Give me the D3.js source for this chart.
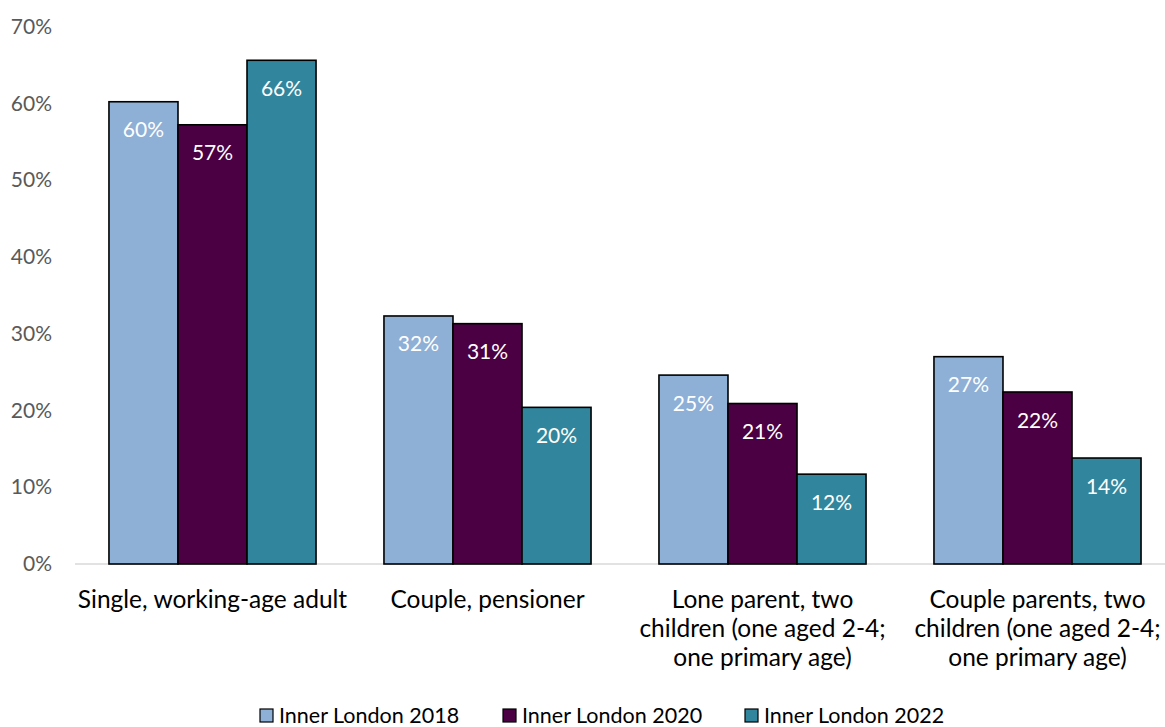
<!DOCTYPE html>
<html>
<head>
<meta charset="utf-8">
<script src="https://cdn.jsdelivr.net/npm/d3@7/dist/d3.min.js"></script>
<style>
  html, body { margin: 0; padding: 0; background: #fff; }
  svg { display: block; font-family: Lato, "Open Sans", sans-serif; }
</style>
</head>
<body>
<svg id="chart" width="1165" height="727"></svg>
<script>
// Household types (x-axis categories), each label split into lines
const categories = [
  ["Single, working-age adult"],
  ["Couple, pensioner"],
  ["Lone parent, two", "children (one aged 2-4;", "one primary age)"],
  ["Couple parents, two", "children (one aged 2-4;", "one primary age)"]
];
const seriesNames = ["Inner London 2018", "Inner London 2020", "Inner London 2022"];
// Share of households, in percent
const values2018 = [60.2, 32.3, 24.6, 27.0];
const values2020 = [57.2, 31.3, 20.9, 22.4];
const values2022 = [65.6, 20.4, 11.7, 13.8];
const yTicks = [0, 10, 20, 30, 40, 50, 60, 70];

const colors = ["#8EAFD6", "#4A0043", "#31869D"];
const seriesValues = [values2018, values2020, values2022];

const svg = d3.select("#chart");

const x0 = d3.scaleBand()
  .domain(d3.range(categories.length))
  .range([75, 1175])
  .paddingInner(0.247)
  .paddingOuter(0.1235);

const x1 = d3.scaleBand()
  .domain(d3.range(seriesNames.length))
  .range([0, x0.bandwidth()]);

const y = d3.scaleLinear().domain([0, 70]).range([564, 26.5]);

// Y axis labels (no line, no ticks)
const yAxis = d3.axisLeft(y).tickValues(yTicks).tickFormat(d => d + "%").tickSize(0).tickPadding(0);
const gy = svg.append("g").attr("transform", "translate(52,0)").call(yAxis);
gy.select(".domain").remove();
gy.selectAll("text")
  .attr("fill", "#595959")
  .style("font-size", "21px")
  .style("font-family", "Lato, sans-serif");

// Baseline
svg.append("line")
  .attr("x1", 75).attr("x2", 1165)
  .attr("y1", y(0)).attr("y2", y(0))
  .attr("stroke", "#D9D9D9").attr("stroke-width", 1.5);

// Bars
const groups = svg.append("g").selectAll("g")
  .data(categories.map((c, i) => i))
  .join("g")
  .attr("transform", i => `translate(${x0(i)},0)`);

groups.selectAll("rect")
  .data(i => seriesValues.map((vals, s) => ({ s, v: vals[i] })))
  .join("rect")
  .attr("x", d => x1(d.s))
  .attr("width", x1.bandwidth())
  .attr("y", d => y(d.v))
  .attr("height", d => y(0) - y(d.v))
  .attr("fill", d => colors[d.s])
  .attr("stroke", "#000")
  .attr("stroke-width", 1.6);

// Value labels inside the top of each bar
groups.selectAll("text.val")
  .data(i => seriesValues.map((vals, s) => ({ s, v: vals[i] })))
  .join("text")
  .attr("class", "val")
  .attr("x", d => x1(d.s) + x1.bandwidth() / 2)
  .attr("y", d => y(d.v) + 35.5)
  .attr("text-anchor", "middle")
  .attr("fill", "#fff")
  .style("font-size", "21px")
  .text(d => Math.round(d.v) + "%");

// Category labels
const xl = svg.append("g").selectAll("text")
  .data(categories)
  .join("text")
  .attr("text-anchor", "middle")
  .attr("fill", "#000")
  .style("font-size", "24.5px")
  .attr("transform", (d, i) => `translate(${x0(i) + x0.bandwidth() / 2},608)`);
xl.selectAll("tspan")
  .data(d => d)
  .join("tspan")
  .attr("x", 0)
  .attr("dy", (d, j) => j === 0 ? 0 : 29)
  .text(d => d);

// Legend
const legendX = [260, 503, 745];
const lg = svg.append("g").selectAll("g")
  .data(seriesNames)
  .join("g")
  .attr("transform", (d, i) => `translate(${legendX[i]},709)`);
lg.append("rect")
  .attr("width", 13).attr("height", 13)
  .attr("fill", (d, i) => colors[i])
  .attr("stroke", "#000").attr("stroke-width", 1.2);
lg.append("text")
  .attr("x", 19).attr("y", 13.5)
  .attr("fill", "#000")
  .style("font-size", "21.5px")
  .text(d => d);
</script>
</body>
</html>
